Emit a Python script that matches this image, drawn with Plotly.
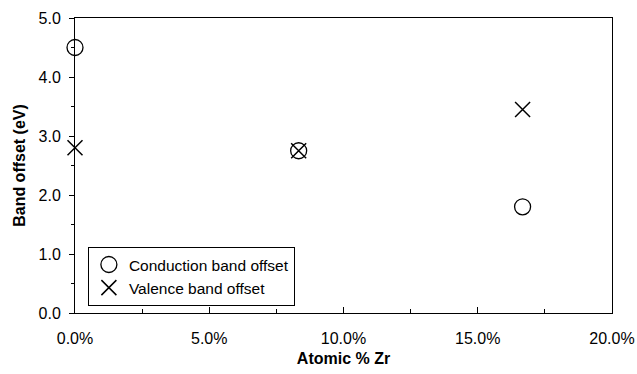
import plotly.graph_objects as go

zr_pct = [0.0, 8.33, 16.67]
conduction = [4.5, 2.75, 1.8]
valence = [2.8, 2.75, 3.45]

fig = go.Figure()
fig.add_trace(go.Scatter(
    x=zr_pct, y=conduction, mode="markers", name="Conduction band offset",
    marker=dict(symbol="circle-open", size=16, color="black", line=dict(width=1.3, color="black")),
    cliponaxis=False))
fig.add_trace(go.Scatter(
    x=zr_pct, y=valence, mode="markers", name="Valence band offset",
    marker=dict(symbol="x-thin-open", size=15, color="black", line=dict(width=1.5, color="black")),
    cliponaxis=False))

font = "Arial, Liberation Sans, sans-serif"
fig.update_layout(
    width=637, height=374,
    margin=dict(l=75, r=25, t=18, b=61, autoexpand=False),
    paper_bgcolor="white", plot_bgcolor="white",
    font=dict(family=font, size=16, color="black"),
    showlegend=True,
    legend=dict(x=0.024, y=0.024, xanchor="left", yanchor="bottom",
                bgcolor="white", bordercolor="black", borderwidth=1,
                font=dict(size=15.5), itemwidth=30, tracegroupgap=0),
    xaxis=dict(range=[0, 20], tickvals=[0, 5, 10, 15, 20],
               ticktext=["0.0%", "5.0%", "10.0%", "15.0%", "20.0%"],
               ticks="inside", ticklen=6, tickcolor="black",
               ticklabelstandoff=11, tickfont=dict(size=16),
               minor=dict(dtick=2.5, ticks="inside", ticklen=4, tickcolor="black"),
               showline=True, linecolor="black", linewidth=1, mirror=True,
               showgrid=False, zeroline=False, automargin=False,
               title=dict(text="<b>Atomic % Zr</b>", font=dict(size=16), standoff=6)),
    yaxis=dict(range=[0, 5], tickvals=[0, 1, 2, 3, 4, 5],
               ticktext=["0.0", "1.0", "2.0", "3.0", "4.0", "5.0"],
               ticks="outside", ticklen=5, tickcolor="black",
               ticklabelstandoff=5, tickfont=dict(size=16),
               minor=dict(dtick=0.5, ticks="outside", ticklen=3, tickcolor="black"),
               showline=True, linecolor="black", linewidth=1, mirror=True,
               showgrid=False, zeroline=False, automargin=False,
               title=dict(text="<b>Band offset (eV)</b>", font=dict(size=16), standoff=8)),
)
fig.write_html("out.html")
